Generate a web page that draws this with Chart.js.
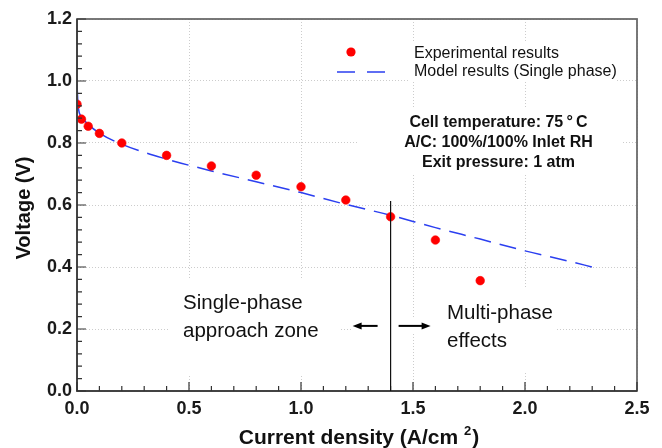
<!DOCTYPE html>
<html><head><meta charset="utf-8">
<script src="https://cdn.jsdelivr.net/npm/chart.js@4"></script>
<style>html,body{margin:0;padding:0;background:#fff;} canvas{display:block;}</style>
</head><body>
<canvas id="c" width="662" height="448"></canvas>
<script>
// ---- data ----
const expCurrent = [0, 0.02, 0.05, 0.1, 0.2, 0.4, 0.6, 0.8, 1.0, 1.2, 1.4, 1.6, 1.8];
const expVoltage = [0.925, 0.877, 0.854, 0.831, 0.800, 0.760, 0.726, 0.696, 0.659, 0.616, 0.562, 0.487, 0.356];
const modelCurrent = [0, 0.005, 0.02, 0.05, 0.1, 0.2, 0.4, 0.6, 0.8, 1.0, 1.2, 1.4, 1.6, 1.8, 2.0, 2.2, 2.3];
const modelVoltage = [0.99, 0.92, 0.885, 0.86, 0.832, 0.796, 0.748, 0.710, 0.675, 0.640, 0.602, 0.567, 0.527, 0.490, 0.452, 0.418, 0.400];
const xTicks = [0, 0.5, 1.0, 1.5, 2.0, 2.5];
const yTicks = [0, 0.2, 0.4, 0.6, 0.8, 1.0, 1.2];
const seriesLabels = ['Experimental results', 'Model results (Single phase)'];
const conditionLines = ['Cell temperature: 75\u2009\u00B0\u2009C', 'A/C: 100%/100% Inlet RH', 'Exit pressure: 1 atm'];
const zoneLeft = ['Single-phase', 'approach zone'];
const zoneRight = ['Multi-phase', 'effects'];
const xTitle = ['Current density (A/cm ', '2', ')'];
const yTitle = 'Voltage (V)';
const dividerCurrent = 1.4;
const dividerTopVoltage = 0.613;
const arrowVoltage = 0.21;

const FONT = "'Liberation Sans', Arial, sans-serif";
const BLUE = '#2b3ff0';
const RED = '#ff0000';

const deco = {
  id: 'deco',
  beforeDatasetsDraw(chart) {
    const ctx = chart.ctx;
    ctx.save();
    ctx.fillStyle = '#fff';
    [[410, 43, 207, 39], [357, 108, 266, 67], [168, 279, 172, 95], [432, 287, 125, 84], [352, 318, 80, 16]]
      .forEach(b => ctx.fillRect(b[0], b[1], b[2], b[3]));
    ctx.restore();
  },
  afterDatasetsDraw(chart) {
    const ctx = chart.ctx;
    const {left, right, top, bottom} = chart.chartArea;
    const xs = chart.scales.x, ys = chart.scales.y;
    ctx.save();
    // frame
    ctx.lineWidth = 1.8;
    ctx.strokeStyle = '#6a6a6a';
    ctx.strokeRect(left, top, right - left, bottom - top);
    ctx.lineWidth = 1.5;
    ctx.strokeStyle = '#333';
    ctx.beginPath();
    ctx.moveTo(left, top); ctx.lineTo(left, bottom); ctx.lineTo(right, bottom);
    ctx.stroke();
    // inward ticks
    ctx.lineWidth = 1.2;
    ctx.beginPath();
    for (let i = 0; i <= 25; i++) {
      const px = xs.getPixelForValue(i / 10);
      const len = (i % 5 === 0) ? 9 : 5;
      ctx.moveTo(px, bottom); ctx.lineTo(px, bottom - len);
    }
    for (let i = 0; i <= 30; i++) {
      const py = ys.getPixelForValue(i * 0.04);
      const len = (i % 5 === 0) ? 9 : 5;
      ctx.moveTo(left, py); ctx.lineTo(left + len, py);
    }
    ctx.stroke();
    // divider
    const dx = xs.getPixelForValue(dividerCurrent);
    ctx.strokeStyle = '#111';
    ctx.lineWidth = 1.2;
    ctx.beginPath();
    ctx.moveTo(dx, ys.getPixelForValue(dividerTopVoltage));
    ctx.lineTo(dx, bottom);
    ctx.stroke();
    // arrows
    const ay = ys.getPixelForValue(arrowVoltage);
    function arrow(x0, x1) {
      const dir = Math.sign(x1 - x0);
      ctx.strokeStyle = '#000'; ctx.fillStyle = '#000'; ctx.lineWidth = 2;
      ctx.beginPath(); ctx.moveTo(x0, ay); ctx.lineTo(x1 - dir * 6, ay); ctx.stroke();
      ctx.beginPath(); ctx.moveTo(x1, ay); ctx.lineTo(x1 - dir * 9, ay - 3.5); ctx.lineTo(x1 - dir * 9, ay + 3.5); ctx.closePath(); ctx.fill();
    }
    arrow(dx - 13, dx - 38);
    arrow(dx + 8, dx + 40);
    // legend
    ctx.fillStyle = RED;
    ctx.beginPath(); ctx.arc(351, 52, 4.6, 0, Math.PI * 2); ctx.fill();
    ctx.strokeStyle = BLUE; ctx.lineWidth = 1.5; ctx.setLineDash([18, 12]);
    ctx.beginPath(); ctx.moveTo(337, 72); ctx.lineTo(385, 72); ctx.stroke();
    ctx.setLineDash([]);
    ctx.fillStyle = '#111';
    ctx.font = '16px ' + FONT;
    ctx.textAlign = 'left'; ctx.textBaseline = 'alphabetic';
    ctx.fillText(seriesLabels[0], 414, 58);
    ctx.fillText(seriesLabels[1], 414, 76);
    // conditions
    ctx.font = 'bold 16px ' + FONT;
    ctx.textAlign = 'center';
    conditionLines.forEach((t, i) => ctx.fillText(t, 498.5, 127 + i * 20));
    // zones
    ctx.font = '20.5px ' + FONT;
    ctx.textAlign = 'left';
    ctx.fillText(zoneLeft[0], 183, 309);
    ctx.fillText(zoneLeft[1], 183, 337);
    ctx.fillText(zoneRight[0], 447, 319);
    ctx.fillText(zoneRight[1], 447, 347);
    ctx.restore();
  },
  afterDraw(chart) {
    const ctx = chart.ctx;
    ctx.save();
    ctx.fillStyle = '#111';
    ctx.textBaseline = 'alphabetic';
    // x title with superscript
    ctx.font = 'bold 21px ' + FONT;
    const w0 = ctx.measureText(xTitle[0]).width;
    const w2 = ctx.measureText(xTitle[2]).width;
    ctx.font = 'bold 13px ' + FONT;
    const w1 = ctx.measureText(xTitle[1]).width;
    const total = w0 + w1 + w2;
    let x = 358.5 - total / 2;
    const base = 444;
    ctx.textAlign = 'left';
    ctx.font = 'bold 21px ' + FONT;
    ctx.fillText(xTitle[0], x, base);
    ctx.font = 'bold 13px ' + FONT;
    ctx.fillText(xTitle[1], x + w0, base - 9);
    ctx.font = 'bold 21px ' + FONT;
    ctx.fillText(xTitle[2], x + w0 + w1 + 1, base);
    // y title
    ctx.translate(29.5, 208);
    ctx.rotate(-Math.PI / 2);
    ctx.textAlign = 'center';
    ctx.font = 'bold 20px ' + FONT;
    ctx.fillText(yTitle, 0, 0);
    ctx.restore();
  }
};

const tickFont = {family: FONT, size: 18, weight: 'bold'};

new Chart(document.getElementById('c'), {
  type: 'scatter',
  data: {
    datasets: [
      {
        label: seriesLabels[0],
        data: expCurrent.map((x, i) => ({x: x, y: expVoltage[i]})),
        backgroundColor: RED, borderColor: RED,
        pointRadius: 4.3, pointBorderWidth: 0.6, showLine: false
      },
      {
        label: seriesLabels[1],
        data: modelCurrent.map((x, i) => ({x: x, y: modelVoltage[i]})),
        borderColor: BLUE, backgroundColor: BLUE, borderWidth: 1.5,
        pointRadius: 0, showLine: true, cubicInterpolationMode: 'monotone',
        borderDash: [17, 9],
        segment: { borderDash: c => (c.p0.parsed.x < 0.1 ? [] : [17, 9]) }
      }
    ]
  },
  options: {
    responsive: false, animation: false, devicePixelRatio: 1,
    layout: {padding: {top: 19, right: 25, left: 0, bottom: 0}},
    plugins: {legend: {display: false}, tooltip: {enabled: false}},
    scales: {
      x: {
        type: 'linear', min: 0, max: 2.5,
        afterBuildTicks: s => { s.ticks = xTicks.map(v => ({value: v})); },
        afterFit: s => { s.height = 57; },
        ticks: {callback: v => Number(v).toFixed(1), font: tickFont, color: '#1a1a1a', padding: 7, maxRotation: 0, autoSkip: false},
        grid: {color: '#cccccc', lineWidth: 1, drawTicks: false},
        border: {display: false, dash: [1, 2]}
      },
      y: {
        type: 'linear', min: 0, max: 1.2,
        afterBuildTicks: s => { s.ticks = yTicks.map(v => ({value: v})); },
        afterFit: s => { s.width = 77; },
        ticks: {callback: v => Number(v).toFixed(1), font: tickFont, color: '#1a1a1a', padding: 5, autoSkip: false},
        grid: {color: '#cccccc', lineWidth: 1, drawTicks: false},
        border: {display: false, dash: [1, 2]}
      }
    }
  },
  plugins: [deco]
});
</script>
</body></html>
